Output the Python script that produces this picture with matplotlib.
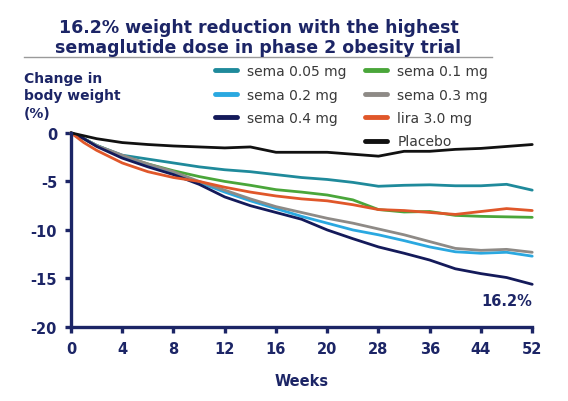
import numpy as np
import matplotlib
matplotlib.use("Agg")
import matplotlib.pyplot as plt
from matplotlib.lines import Line2D

plt.rcParams["axes.unicode_minus"] = False

# weeks on the axis are not evenly spaced: 0-20 every 4, then every 8
tick_weeks = [0, 4, 8, 12, 16, 20, 28, 36, 44, 52]
weeks = [0, 1, 2, 4, 6, 8, 10, 12, 14, 16, 18, 20, 24, 28, 32, 36, 40, 44, 48, 52]

sema_005 = [0, -0.6, -1.3, -2.3, -2.7, -3.1, -3.5, -3.8, -4.0, -4.3, -4.6, -4.8, -5.1, -5.5, -5.4, -5.35, -5.45, -5.45, -5.3, -5.9]
sema_01 = [0, -0.6, -1.3, -2.4, -3.2, -3.9, -4.5, -5.0, -5.4, -5.85, -6.1, -6.4, -6.9, -7.9, -8.15, -8.1, -8.5, -8.6, -8.65, -8.7]
sema_02 = [0, -0.6, -1.3, -2.4, -3.3, -4.1, -5.1, -6.1, -7.0, -7.8, -8.6, -9.3, -10.0, -10.5, -11.1, -11.75, -12.25, -12.4, -12.3, -12.7]
sema_03 = [0, -0.6, -1.3, -2.3, -3.2, -4.0, -5.0, -5.9, -6.8, -7.6, -8.2, -8.8, -9.3, -9.9, -10.5, -11.2, -11.9, -12.1, -12.0, -12.3]
sema_04 = [0, -0.6, -1.4, -2.6, -3.5, -4.3, -5.3, -6.6, -7.5, -8.2, -8.9, -10.0, -10.9, -11.75, -12.4, -13.1, -14.0, -14.5, -14.9, -15.6]
lira_30 = [0, -1.0, -1.8, -3.1, -4.0, -4.6, -5.0, -5.6, -6.1, -6.5, -6.8, -7.0, -7.4, -7.9, -8.0, -8.2, -8.4, -8.1, -7.8, -8.0]
placebo = [0, -0.3, -0.6, -1.0, -1.2, -1.35, -1.45, -1.55, -1.45, -2.0, -2.0, -2.0, -2.2, -2.4, -1.9, -1.9, -1.7, -1.6, -1.4, -1.2]

navy = "#1c2566"
text_grey = "#3a3a3a"

series = [
    ("sema 0.05 mg", sema_005, "#1f8a9b"),
    ("sema 0.1 mg", sema_01, "#4aa63a"),
    ("sema 0.2 mg", sema_02, "#2aa8e0"),
    ("sema 0.3 mg", sema_03, "#8e8a86"),
    ("sema 0.4 mg", sema_04, "#141a5a"),
    ("lira 3.0 mg", lira_30, "#e0572a"),
    ("Placebo", placebo, "#111111"),
]

pos = np.arange(len(tick_weeks))


def fwd(w):
    return np.interp(w, tick_weeks, pos)


def inv(p):
    return np.interp(p, pos, tick_weeks)


fig = plt.figure(figsize=(5.68, 4.02), dpi=100)
ax = fig.add_axes([0.125, 0.184, 0.812, 0.483])
ax.set_xscale("function", functions=(fwd, inv))

handles = {}
for name, vals, col in series:
    ln, = ax.plot(weeks, vals, color=col, lw=2.0, clip_on=False,
                  solid_capstyle="round", solid_joinstyle="round")
    handles[name] = ln

ax.set_xlim(0, 52)
ax.set_ylim(-20, 0)
ax.set_xticks(tick_weeks)
ax.set_xticklabels([str(t) for t in tick_weeks])
ax.set_yticks([0, -5, -10, -15, -20])
ax.xaxis.set_minor_locator(plt.NullLocator())

for s in ["top", "right"]:
    ax.spines[s].set_visible(False)
for s in ["left", "bottom"]:
    ax.spines[s].set_color(navy)
    ax.spines[s].set_linewidth(2.4)
ax.tick_params(colors=navy, width=2.4, length=4, labelsize=10.5, pad=6)
for lab in ax.get_xticklabels() + ax.get_yticklabels():
    lab.set_fontweight("bold")

ax.set_xlabel("Weeks", fontsize=10.5, fontweight="bold", color=navy, labelpad=12)

# title and rule under it
fig.text(0.455, 0.906, "16.2% weight reduction with the highest\nsemaglutide dose in phase 2 obesity trial",
         ha="center", va="center", fontsize=12.5, fontweight="bold", color=navy, linespacing=1.12)
fig.add_artist(Line2D([0.042, 0.866], [0.855, 0.855], color="#9a9a9a", lw=1))

fig.text(0.042, 0.822, "Change in\nbody weight\n(%)", ha="left", va="top",
         fontsize=10, fontweight="bold", color=navy, linespacing=1.35)

ax.text(52, -16.5, "16.2%", ha="right", va="top", fontsize=10.5, fontweight="bold", color=navy)

# legend: 3 rows on the left, 4 on the right
col1 = ["sema 0.05 mg", "sema 0.2 mg", "sema 0.4 mg"]
col2 = ["sema 0.1 mg", "sema 0.3 mg", "lira 3.0 mg", "Placebo"]
leg_kw = dict(frameon=False, fontsize=10, handlelength=1.6, handletextpad=0.7,
              labelspacing=0.68, borderpad=0, borderaxespad=0, labelcolor=text_grey,
              bbox_transform=fig.transFigure, loc="upper left")
leg1 = ax.legend([handles[n] for n in col1], col1, bbox_to_anchor=(0.378, 0.838), **leg_kw)
for h in leg1.get_lines():
    h.set_linewidth(3.5)
ax.add_artist(leg1)
leg2 = ax.legend([handles[n] for n in col2], col2, bbox_to_anchor=(0.643, 0.838), **leg_kw)
for h in leg2.get_lines():
    h.set_linewidth(3.5)

fig.savefig("out.png", dpi=100)
